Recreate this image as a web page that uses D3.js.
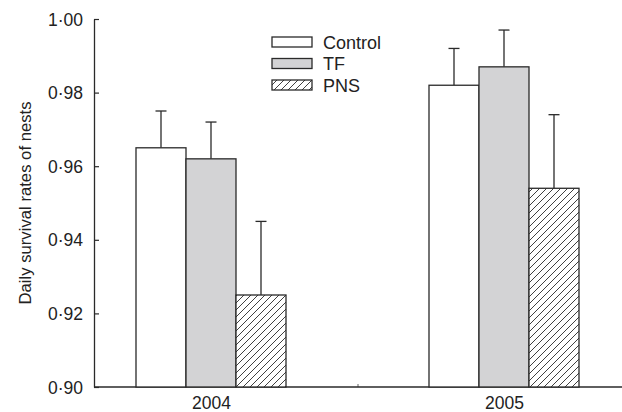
<!DOCTYPE html>
<html><head><meta charset="utf-8">
<script src="https://cdn.jsdelivr.net/npm/d3@7"></script>
<style>
html,body{margin:0;padding:0;background:#fff;}
text{font-family:"Liberation Sans",Arial,sans-serif;fill:#222;}
</style></head>
<body>
<svg id="chart" width="622" height="412"></svg>
<script>
const years = ["2004", "2005"];
const treatments = ["Control", "TF", "PNS"];
const means = {
  "2004": [0.965, 0.962, 0.925],
  "2005": [0.982, 0.987, 0.954]
};
const errors = {
  "2004": [0.010, 0.010, 0.020],
  "2005": [0.010, 0.010, 0.020]
};
const yTicks = [0.90, 0.92, 0.94, 0.96, 0.98, 1.00];
const yLabel = "Daily survival rates of nests";

(function () {
const svg = d3.select("#chart");
const ink = "#2a2a2a";
const mLeft = 94, mRight = 622, mTop = 19, mBottom = 387;

// hatch pattern
const defs = svg.append("defs");
const pat = defs.append("pattern").attr("id", "hatch")
  .attr("patternUnits", "userSpaceOnUse").attr("width", 7).attr("height", 7);
pat.append("rect").attr("width", 7).attr("height", 7).attr("fill", "#fff");
pat.append("path").attr("d", "M-1,8 L8,-1 M-1,1 L1,-1 M6,8 L8,6")
  .attr("stroke", ink).attr("stroke-width", 0.9);

const fills = {"Control": "#ffffff", "TF": "#d3d3d5", "PNS": "url(#hatch)"};

const y = d3.scaleLinear().domain([0.90, 1.00]).range([mBottom, mTop]);
// x positions: years at 1 and 3, separator tick at 2
const x = d3.scaleLinear().domain([1, 3]).range([211, 504]);
const yearPos = d3.scaleOrdinal().domain(years).range([1, 3]);
const inner = d3.scaleBand().domain(treatments).range([-75, 75]).padding(0);

// y axis
const yAxis = d3.axisRight(y).tickValues(yTicks).tickSize(5).tickSizeOuter(0)
  .tickFormat(d => d3.format(".2f")(d).replace(".", "\u00B7"));
const gy = svg.append("g").attr("transform", `translate(${mLeft},0)`).call(yAxis);
gy.select(".domain").attr("stroke", ink).attr("stroke-width", 1.3);
gy.selectAll(".tick line").attr("stroke", ink).attr("stroke-width", 1.2);
gy.selectAll(".tick text").attr("x", -11).attr("text-anchor", "end")
  .attr("dy", "0.35em").style("font-size", "17.5px").attr("fill", "#222");

// x axis
const xAxis = d3.axisTop(x).tickValues([1, 2, 3]).tickSize(3).tickSizeOuter(0)
  .tickFormat(d => d === 1 ? years[0] : d === 3 ? years[1] : "");
const gx = svg.append("g").attr("transform", `translate(0,${mBottom})`).call(xAxis);
gx.select(".domain").remove();
gx.append("line").attr("x1", mLeft).attr("x2", mRight).attr("y1", 0).attr("y2", 0)
  .attr("stroke", ink).attr("stroke-width", 1.3);
gx.selectAll(".tick line").attr("stroke", "#666").attr("stroke-width", 1);
gx.selectAll(".tick text").attr("y", 22).attr("dy", 0).attr("text-anchor", "middle")
  .style("font-size", "17.5px").attr("fill", "#222");

// bars
years.forEach(yr => {
  const cx = x(yearPos(yr));
  treatments.forEach((t, i) => {
    const v = means[yr][i], e = errors[yr][i];
    const bx = cx + inner(t);
    const bw = inner.bandwidth();
    const mid = bx + bw / 2;
    svg.append("line").attr("x1", mid).attr("x2", mid)
      .attr("y1", y(v)).attr("y2", y(v + e)).attr("stroke", ink).attr("stroke-width", 1.3);
    svg.append("line").attr("x1", mid - 5.5).attr("x2", mid + 5.5)
      .attr("y1", y(v + e)).attr("y2", y(v + e)).attr("stroke", ink).attr("stroke-width", 1.3);
    svg.append("rect").attr("x", bx).attr("y", y(v)).attr("width", bw)
      .attr("height", y(0.90) - y(v)).attr("fill", fills[t])
      .attr("stroke", ink).attr("stroke-width", 1.3);
  });
});

// legend
const lg = svg.append("g");
treatments.forEach((t, i) => {
  const ly = 37 + i * 21.5;
  lg.append("rect").attr("x", 272).attr("y", ly).attr("width", 40).attr("height", 10)
    .attr("fill", fills[t]).attr("stroke", ink).attr("stroke-width", 1.3);
  lg.append("text").attr("x", 323).attr("y", ly + 11.5).text(t).style("font-size", "18px");
});

// y label
svg.append("text").attr("transform", `translate(31,${(mTop + mBottom) / 2}) rotate(-90)`)
  .attr("text-anchor", "middle").style("font-size", "16.7px").text(yLabel);
})();
</script>
</body></html>
